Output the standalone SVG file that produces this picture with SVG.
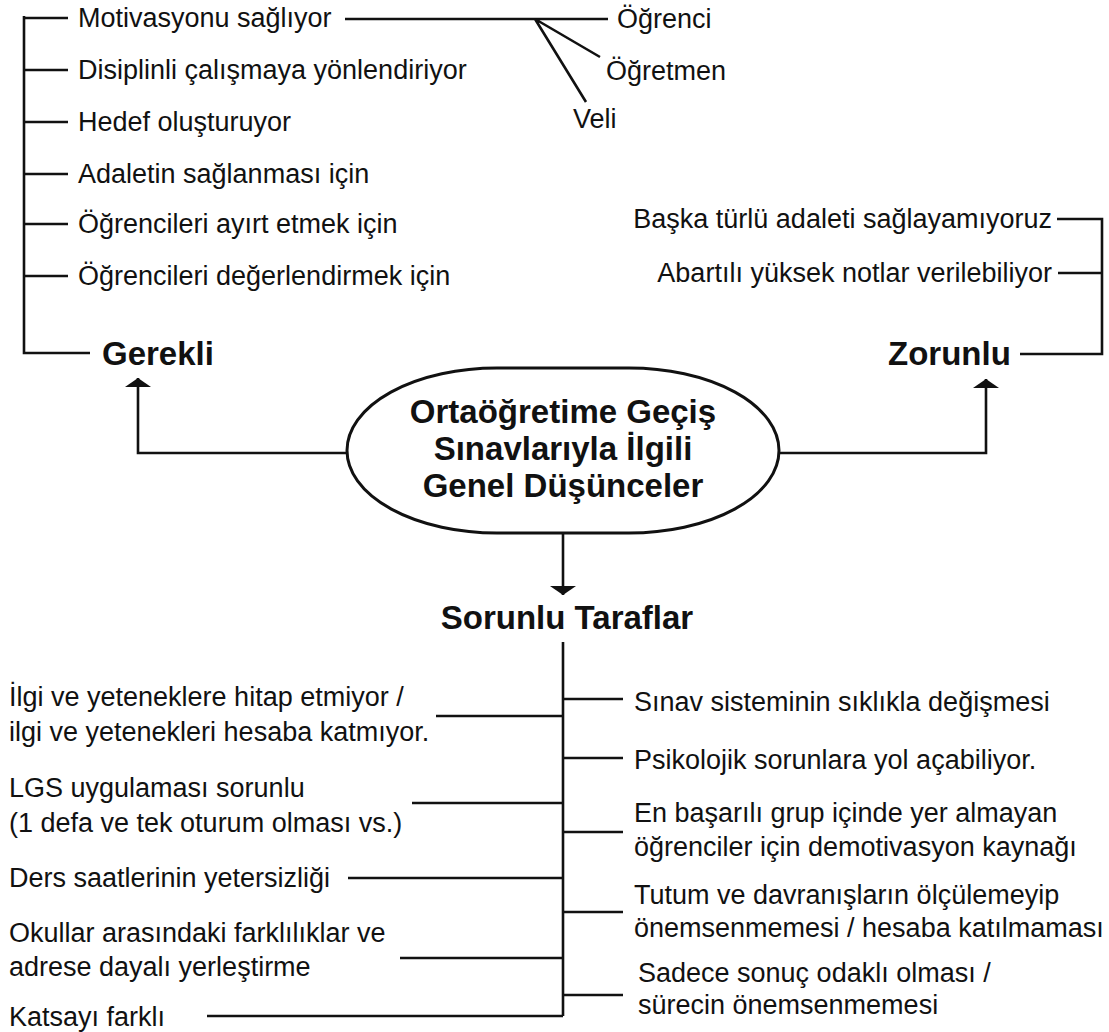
<svg xmlns="http://www.w3.org/2000/svg" width="1109" height="1032" viewBox="0 0 1109 1032">
<style>
text{font-family:"Liberation Sans",Arial,sans-serif;fill:#111}
.b{font-size:27px}
.h{font-size:33px;font-weight:bold}
.c{font-size:33px;font-weight:bold;text-anchor:middle}
.e{text-anchor:end}
.ln{stroke:#111;stroke-width:2.6;fill:none}
.sh{stroke:#111;stroke-width:3;fill:#fff}
</style>
<defs>
<marker id="ah" viewBox="0 -13 9 26" refX="9" refY="0" markerWidth="9" markerHeight="26" orient="auto" markerUnits="userSpaceOnUse">
<path d="M0,-13 L9,0 L0,13 Z" fill="#111"/>
</marker>
</defs>
<rect width="1109" height="1032" fill="#fff"/>
<g id="connectors" class="ln">
<path d="M24,16 V353 H90"/>
<path d="M24,18 H68 M24,70 H68 M24,122 H68 M24,174 H68 M24,224 H68 M24,276 H68"/>
<path d="M345,19 H608 M535,19 L600,57 M535,19 L586,102"/>
<path d="M1057,219 H1102 V354 H1020 M1058,273 H1102"/>
<path d="M347,453 H138 V378" marker-end="url(#ah)"/>
<path d="M779,453 H986 V379" marker-end="url(#ah)"/>
<path d="M563,533 V595" marker-end="url(#ah)"/>
<path d="M563,642 V1016"/>
<path d="M563,699 H623 M563,758 H623 M563,832 H623 M563,912 H623 M563,995 H623"/>
<path d="M436,716 H563 M412,803 H563 M348,878 H563 M400,958 H563 M207,1016 H563"/>
</g>
<g id="center">
<rect class="sh" x="347" y="368" width="432" height="165" rx="150" ry="82.5"/>
<text class="c" x="563" y="423">Ortaöğretime Geçiş</text>
<text class="c" x="563" y="460">Sınavlarıyla İlgili</text>
<text class="c" x="563" y="497">Genel Düşünceler</text>
</g>
<g id="gerekli">
<text class="h" x="102" y="365">Gerekli</text>
<text class="b" x="78" y="27">Motivasyonu sağlıyor</text>
<text class="b" x="78" y="79">Disiplinli çalışmaya yönlendiriyor</text>
<text class="b" x="78" y="131">Hedef oluşturuyor</text>
<text class="b" x="78" y="183">Adaletin sağlanması için</text>
<text class="b" x="78" y="233">Öğrencileri ayırt etmek için</text>
<text class="b" x="78" y="285">Öğrencileri değerlendirmek için</text>
</g>
<g id="paydas">
<text class="b" x="617" y="28">Öğrenci</text>
<text class="b" x="606" y="80">Öğretmen</text>
<text class="b" x="573" y="128">Veli</text>
</g>
<g id="zorunlu">
<text class="h" x="888" y="365">Zorunlu</text>
<text class="b e" x="1052" y="228">Başka türlü adaleti sağlayamıyoruz</text>
<text class="b e" x="1052" y="282">Abartılı yüksek notlar verilebiliyor</text>
</g>
<g id="sorunlu">
<text class="c" x="567" y="629">Sorunlu Taraflar</text>
<text class="b" x="9" y="706">İlgi ve yeteneklere hitap etmiyor /</text>
<text class="b" x="9" y="741">ilgi ve yetenekleri hesaba katmıyor.</text>
<text class="b" x="9" y="797">LGS uygulaması sorunlu</text>
<text class="b" x="9" y="832">(1 defa ve tek oturum olması vs.)</text>
<text class="b" x="9" y="887">Ders saatlerinin yetersizliği</text>
<text class="b" x="9" y="942">Okullar arasındaki farklılıklar ve</text>
<text class="b" x="9" y="976">adrese dayalı yerleştirme</text>
<text class="b" x="9" y="1026">Katsayı farklı</text>
<text class="b" x="634" y="711">Sınav sisteminin sıklıkla değişmesi</text>
<text class="b" x="634" y="769">Psikolojik sorunlara yol açabiliyor.</text>
<text class="b" x="634" y="822">En başarılı grup içinde yer almayan</text>
<text class="b" x="634" y="856">öğrenciler için demotivasyon kaynağı</text>
<text class="b" x="634" y="904">Tutum ve davranışların ölçülemeyip</text>
<text class="b" x="634" y="937">önemsenmemesi / hesaba katılmaması</text>
<text class="b" x="638" y="982">Sadece sonuç odaklı olması /</text>
<text class="b" x="638" y="1014">sürecin önemsenmemesi</text>
</g>
</svg>
